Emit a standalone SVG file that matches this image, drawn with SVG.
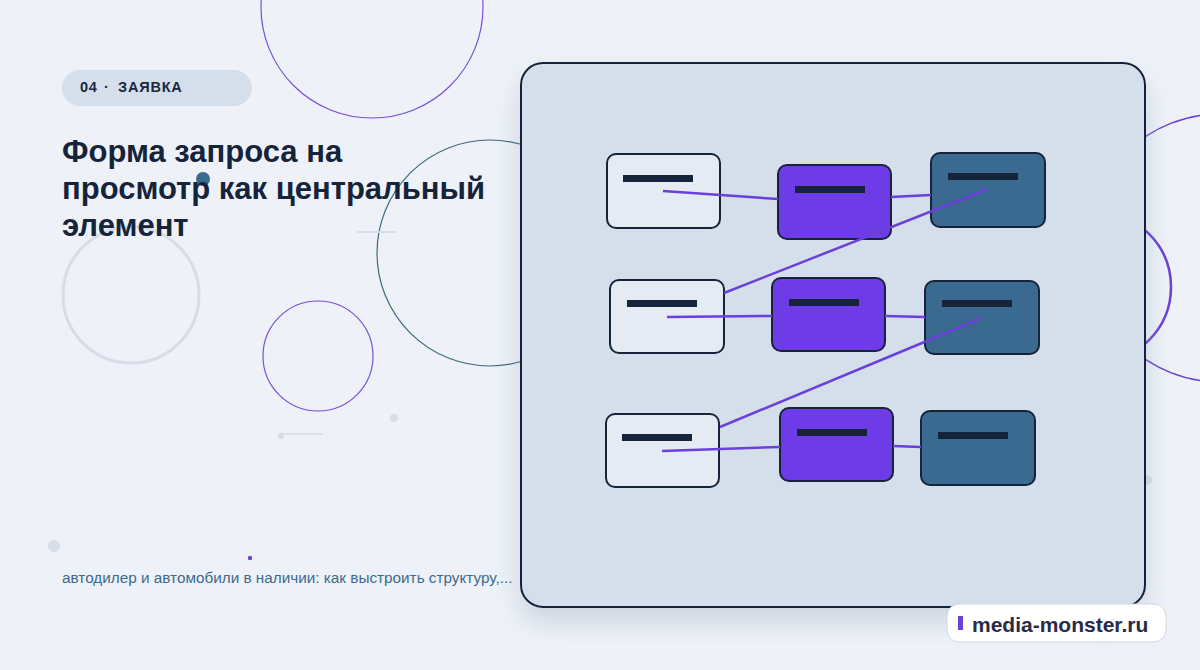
<svg xmlns="http://www.w3.org/2000/svg" width="1200" height="670" viewBox="0 0 1200 670">
<defs>
<style>
.l{fill:#e5ebf3;stroke:#15233b;stroke-width:2}
.p{fill:#6d3ce6;stroke:#15233b;stroke-width:2}
.d{fill:#3a6a8f;stroke:#15233b;stroke-width:2}
.bar{fill:#15233b}
.c{stroke:#6b3fd9;stroke-width:2.5;fill:none}
</style>
<filter id="sh" x="-10%" y="-10%" width="125%" height="130%"><feDropShadow dx="0" dy="14" stdDeviation="14" flood-color="#8a98b0" flood-opacity="0.35"/></filter>
</defs>
<rect width="1200" height="670" fill="#eef2f8"/>
<g id="bg" fill="none">
<circle cx="372" cy="7" r="111" stroke="#7a4fd6" stroke-width="1.2"/>
<circle cx="490" cy="253" r="113" stroke="#3d6a7a" stroke-width="1.2"/>
<circle cx="131" cy="295" r="68" stroke="#d6dde8" stroke-width="3"/>
<circle cx="318" cy="356" r="55" stroke="#7a4fd6" stroke-width="1.2"/>
<circle cx="1220" cy="248" r="134" stroke="#6b3fd9" stroke-width="1.5"/>
<circle cx="1096" cy="287" r="75" stroke="#6b3fd9" stroke-width="2.5"/>
<line x1="357" y1="232" x2="396" y2="232" stroke="#d6dde8" stroke-width="2"/>
<line x1="281" y1="434" x2="323" y2="434" stroke="#d6dde8" stroke-width="1.5"/>
<circle cx="281" cy="436" r="3" fill="#d6dde8"/>
<circle cx="394" cy="418" r="4" fill="#d6dde8"/>
<circle cx="54" cy="546" r="6" fill="#d6dee8"/>
<circle cx="1147" cy="480" r="5" fill="#d6dee8"/>
<circle cx="250" cy="558" r="2.2" fill="#6b3fd9"/>
<circle cx="203" cy="179" r="7" fill="#3a6a8f"/>
</g>
<g id="header">
<rect x="62" y="70" width="190" height="36" rx="18" fill="#d5dfeb"/>
<text y="92" font-family="Liberation Sans, Arial, sans-serif" font-size="14.5" font-weight="bold" fill="#1a2840" letter-spacing="0.8"><tspan x="80">04</tspan><tspan x="104">·</tspan><tspan x="118">ЗАЯВКА</tspan></text>
<text font-family="Liberation Sans, Arial, sans-serif" font-size="31" font-weight="bold" fill="#15233b"><tspan x="62" y="162">Форма запроса на</tspan><tspan x="62" y="199">просмотр как центральный</tspan><tspan x="62" y="236">элемент</tspan></text>
<text x="62" y="583" font-family="Liberation Sans, Arial, sans-serif" font-size="15.3" fill="#3d6a8c">автодилер и автомобили в наличии: как выстроить структуру,...</text>
</g>
<g id="panel">
<rect x="521" y="63" width="624" height="544" rx="22" fill="#d5dfeb" stroke="#15233b" stroke-width="2" filter="url(#sh)"/>
</g>
<g id="n1"><rect class="l" x="607" y="154" width="113" height="74" rx="9"/><rect class="bar" x="623" y="175" width="70" height="7"/></g>
<g id="n2"><rect class="p" x="778" y="165" width="113" height="74" rx="9"/><rect class="bar" x="795" y="186" width="70" height="7"/></g>
<g id="n3"><rect class="d" x="931" y="153" width="114" height="74" rx="9"/><rect class="bar" x="948" y="173" width="70" height="7"/></g>
<g id="n4"><rect class="l" x="610" y="280" width="114" height="73" rx="9"/><rect class="bar" x="627" y="300" width="70" height="7"/></g>
<g id="n5"><rect class="p" x="772" y="278" width="113" height="73" rx="9"/><rect class="bar" x="789" y="299" width="70" height="7"/></g>
<g id="n6"><rect class="d" x="925" y="281" width="114" height="73" rx="9"/><rect class="bar" x="942" y="300" width="70" height="7"/></g>
<g id="n7"><rect class="l" x="606" y="414" width="113" height="73" rx="9"/><rect class="bar" x="622" y="434" width="70" height="7"/></g>
<g id="n8"><rect class="p" x="780" y="408" width="113" height="73" rx="9"/><rect class="bar" x="797" y="429" width="70" height="7"/></g>
<g id="n9"><rect class="d" x="921" y="411" width="114" height="74" rx="9"/><rect class="bar" x="938" y="432" width="70" height="7"/></g>
<g id="connectors">
<line class="c" x1="663" y1="191" x2="778" y2="199"/>
<line class="c" x1="891" y1="197" x2="931" y2="195"/>
<line class="c" x1="724" y1="293" x2="988" y2="189"/>
<line class="c" x1="667" y1="317" x2="772" y2="316"/>
<line class="c" x1="885" y1="316" x2="925" y2="317"/>
<line class="c" x1="720" y1="427" x2="982" y2="318"/>
<line class="c" x1="662" y1="451" x2="780" y2="447"/>
<line class="c" x1="893" y1="446" x2="921" y2="447"/>
</g>
<g id="badge">
<rect x="947" y="604" width="219" height="38" rx="12" fill="#ffffff" stroke="#d0d6e0" stroke-width="1"/>
<rect x="958" y="616" width="5" height="14" fill="#6b3fd9"/>
<text x="972" y="632" font-family="Liberation Sans, Arial, sans-serif" font-size="21" font-weight="bold" fill="#2a2a4a">media-monster.ru</text>
</g>
</svg>
